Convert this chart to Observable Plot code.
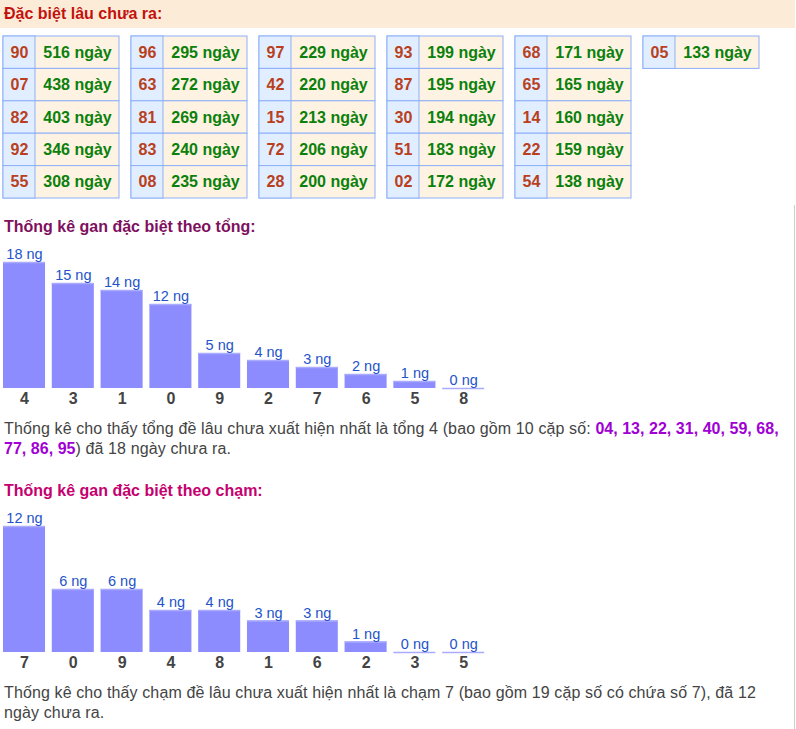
<!DOCTYPE html>
<html>
<head>
<meta charset="utf-8">
<script src="https://cdn.jsdelivr.net/npm/d3@7"></script>
<script src="https://cdn.jsdelivr.net/npm/@observablehq/plot@0.6"></script>
<style>
  html, body { margin: 0; padding: 0; background: #fff; }
  body { font-family: "Liberation Sans", Arial, sans-serif; width: 796px; height: 729px; position: relative; overflow: hidden; }
  .abs { position: absolute; }
  .hdr { left: 0; top: 0; width: 795px; height: 28px; background: #fcebd7; }
  .title { font-weight: bold; font-size: 16px; line-height: 16px; white-space: nowrap; }
  .para { font-size: 16px; line-height: 20px; color: #444; width: 780px; letter-spacing: 0.12px; }
  .para b { color: #a000d4; letter-spacing: 0; }
</style>
</head>
<body>
<script>
// ---- data ----
const pairNumbers = ["90","07","82","92","55","96","63","81","83","08","97","42","15","72","28","93","87","30","51","02","68","65","14","22","54","05"];
const pairDays    = [516,438,403,346,308,295,272,269,240,235,229,220,213,206,200,199,195,194,183,172,171,165,160,159,138,133];

const tongCats = ["4","3","1","0","9","2","7","6","5","8"];
const tongVals = [18,15,14,12,5,4,3,2,1,0];

const chamCats = ["7","0","9","4","8","1","6","2","3","5"];
const chamVals = [12,6,6,4,4,3,3,1,0,0];

const tongPairs = ["04","13","22","31","40","59","68","77","86","95"];

const font = "'Liberation Sans', Arial, sans-serif";

function place(el, top, left) {
  el.style.position = "absolute";
  el.style.top = top + "px";
  el.style.left = (left || 0) + "px";
  document.body.appendChild(el);
  return el;
}
function div(cls, html, top, left, color) {
  const d = document.createElement("div");
  d.className = "abs " + cls;
  d.innerHTML = html;
  if (color) d.style.color = color;
  return place(d, top, left);
}

// header band
div("hdr", "", 0, 0);
div("title", "Đặc biệt lâu chưa ra:", 6, 4, "#c3120e");

// ---- table drawn with Plot ----
const rows = pairNumbers.map((n, i) => ({n, d: pairDays[i], g: Math.floor(i / 5), r: i % 5}));
const groups = d3.range(6);
const table = Plot.plot({
  width: 796, height: 170, margin: 0,
  style: {fontFamily: font, background: "transparent", overflow: "visible"},
  x: {type: "band", domain: groups, range: [3, 759], paddingInner: 12 / 128, paddingOuter: 0, round: false, axis: null},
  y: {type: "band", domain: d3.range(5), range: [6, 168], padding: 0, round: false, axis: null},
  marks: [
    Plot.cell(rows, {x: "g", y: "r", fill: "#fef3e3", stroke: "#8db0f7", inset: 0}),
    Plot.cell(rows, {x: "g", y: "r", fill: "#e1eeff", stroke: "#8db0f7", inset: 0, insetRight: 84}),
    Plot.text(rows, {x: "g", y: "r", text: "n", dx: -42, fill: "#b8401c", fontSize: 16, fontWeight: "bold"}),
    Plot.text(rows, {x: "g", y: "r", text: d => d.d + " ngày", dx: 16, fill: "#0b800b", fontSize: 16, fontWeight: "bold"})
  ]
});
place(table, 30, 0);

// ---- bar charts ----
function barChart(cats, vals) {
  const data = cats.map((c, i) => ({c, v: vals[i]}));
  return Plot.plot({
    width: 796, height: 170,
    marginTop: 22, marginBottom: 22, marginLeft: 0, marginRight: 0,
    style: {fontFamily: font, background: "transparent", overflow: "visible"},
    x: {type: "band", domain: cats, range: [3, 484.2], paddingInner: 0.139, paddingOuter: 0, round: false, label: null},
    y: {domain: [0, d3.max(vals)], axis: null},
    marks: [
      Plot.barY(data, {x: "c", y: "v", fill: "#8c8cff"}),
      Plot.tickY(data, {x: "c", y: "v", stroke: "#aaaaff", strokeWidth: 1.5}),
      Plot.text(data, {x: "c", y: "v", text: d => d.v + " ng", lineAnchor: "bottom", dy: -3.5, fill: "#2353c9", fontSize: 14.5}),
      Plot.axisX({tickSize: 0, tickPadding: 4, fontSize: 16, fontWeight: "bold", color: "#444", label: null})
    ]
  });
}

div("title", "Thống kê gan đặc biệt theo tổng:", 219, 4, "#7e1060");
place(barChart(tongCats, tongVals), 240, 0);

const list = tongPairs.map((p, i) => "<b>" + p + (i < tongPairs.length - 1 ? "," : "") + "</b>").join(" ");
div("para", "<span>Thống kê cho thấy tổng đề lâu chưa xuất hiện nhất là tổng 4 (bao gồm 10 cặp số: </span>" + list + "<span>) đã 18 ngày chưa ra.</span>", 419, 4);

div("title", "Thống kê gan đặc biệt theo chạm:", 483, 4, "#c5006f");
place(barChart(chamCats, chamVals), 504, 0);

div("para", "Thống kê cho thấy chạm đề lâu chưa xuất hiện nhất là chạm 7 (bao gồm 19 cặp số có chứa số 7), đã 12 ngày chưa ra.", 683, 4);

// right border
const rb = document.createElement("div");
rb.style.cssText = "position:absolute;left:794px;top:205px;width:1px;height:524px;background:#cfcfcf;";
document.body.appendChild(rb);
</script>
</body>
</html>
